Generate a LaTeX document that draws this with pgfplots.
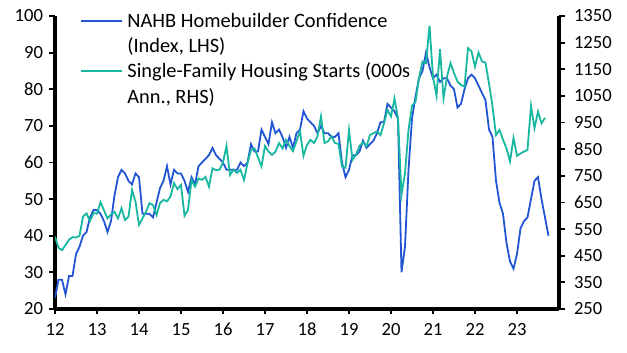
\documentclass[border=0pt]{standalone}
\usepackage{pgfplots}
\pgfplotsset{compat=1.18}
\usepackage{pgfplotstable}
\usepackage{fontspec}
\setmainfont{Carlito}
\definecolor{nahb}{RGB}{34,85,212}
\definecolor{sfh}{RGB}{24,183,160}
\pgfplotstableread{
t hmi sf
0 23 522
1 28 480
2 28 471
3 24 490
4 29 510
5 29 520
6 35 518
7 37 525
8 40 597
9 41 609
10 45 580
11 47 610
12 47 608
13 46 651
14 44 620
15 41 590
16 44 605
17 51 615
18 56 590
19 58 628
20 57 584
21 55 597
22 54 697
23 57 653
24 56 566
25 46 590
26 46 615
27 46 647
28 45 640
29 49 603
30 53 647
31 55 660
32 59 654
33 54 672
34 58 723
35 57 700
36 57 716
37 55 600
38 52 622
39 56 734
40 54 709
41 59 740
42 60 735
43 61 746
44 62 709
45 64 778
46 62 771
47 61 773
48 60 800
49 58 862
50 58 753
51 58 773
52 58 761
53 60 773
54 59 734
55 60 797
56 65 847
57 63 853
58 63 819
59 69 785
60 67 862
61 65 841
62 71 829
63 68 841
64 69 873
65 67 853
66 64 885
67 67 861
68 64 843
69 68 880
70 69 917
71 74 825
72 72 866
73 71 885
74 70 873
75 68 898
76 70 973
77 68 873
78 68 880
79 67 898
80 67 873
81 68 870
82 60 785
83 56 780
84 58 922
85 62 810
86 62 829
87 63 862
88 66 876
89 64 861
90 65 903
91 66 910
92 68 917
93 71 903
94 71 947
95 76 998
96 75 973
97 74 1040
98 72 966
99 30 678
100 37 760
101 58 922
102 72 1013
103 78 1028
104 83 1117
105 85 1179
106 90 1173
107 86 1314
108 83 1122
109 84 1050
110 82 1226
111 83 1041
112 83 1122
113 81 1173
114 80 1136
115 75 1104
116 76 1091
117 80 1085
118 83 1229
119 84 1217
120 83 1160
121 81 1213
122 79 1179
123 77 1175
124 69 1097
125 67 1011
126 55 903
127 49 922
128 46 886
129 38 853
130 33 804
131 31 892
132 35 825
133 42 834
134 44 841
135 45 847
136 50 1013
137 55 929
138 56 991
139 50 947
140 45 968
141 40 nan
}\data

\begin{document}
\begin{tikzpicture}
\pgfplotsset{
  every axis/.append style={
    scale only axis, width=504pt, height=293pt,
    xmin=0, xmax=144,
    font=\fontsize{18.6}{22}\selectfont,
    /pgf/number format/assume math mode=true,
    /pgf/number format/1000 sep={},
    axis line style={line width=3.2pt, black},
    tick style={line width=1.8pt, black},
    major tick length=5.5pt,
    tick align=outside,
  }
}
\begin{axis}[
  name=ax,
  axis x line*=bottom, axis y line*=left,
  ymin=20, ymax=100, ytick={20,30,...,100},
  xtick={0,12,...,132},
  xticklabels={12,13,14,15,16,17,18,19,20,21,22,23},
  yticklabel style={xshift=-3pt},
  xticklabel style={yshift=-5pt},
  legend cell align=left,
  legend style={draw=none, fill=none, at={(0.0496,1.006)}, anchor=north west,
    inner sep=0pt, row sep=12.4pt, font=\fontsize{20.4}{24}\selectfont,
    nodes={text height=12.9pt, text depth=0pt, inner sep=0pt, inner xsep=4pt}},
]
\addplot[nahb, line width=1.8pt,
  legend image code/.code={\draw[nahb, line width=2pt] (0pt,0pt) -- (41pt,0pt);}]
  table[x=t, y=hmi] {\data};
\addlegendentry{NAHB Homebuilder Confidence}
\addlegendimage{empty legend}
\addlegendentry{(Index, LHS)}
\addlegendimage{legend image code/.code={\draw[sfh, line width=2.2pt] (0pt,0.5pt) -- (41pt,0.5pt);}}
\addlegendentry{Single-Family Housing Starts (000s}
\addlegendimage{empty legend}
\addlegendentry{Ann., RHS)}
\end{axis}
\begin{axis}[
  axis x line=none, axis y line*=right,
  ymin=250, ymax=1350, ytick={250,350,...,1350},
  yticklabel style={xshift=6pt},
]
\addplot[sfh, line width=1.8pt, unbounded coords=jump] table[x=t, y=sf] {\data};
\end{axis}
\pgfresetboundingbox
\path (ax.south west) ++(-55pt,-44pt) rectangle ++(627pt,353pt);
\end{tikzpicture}
\end{document}
